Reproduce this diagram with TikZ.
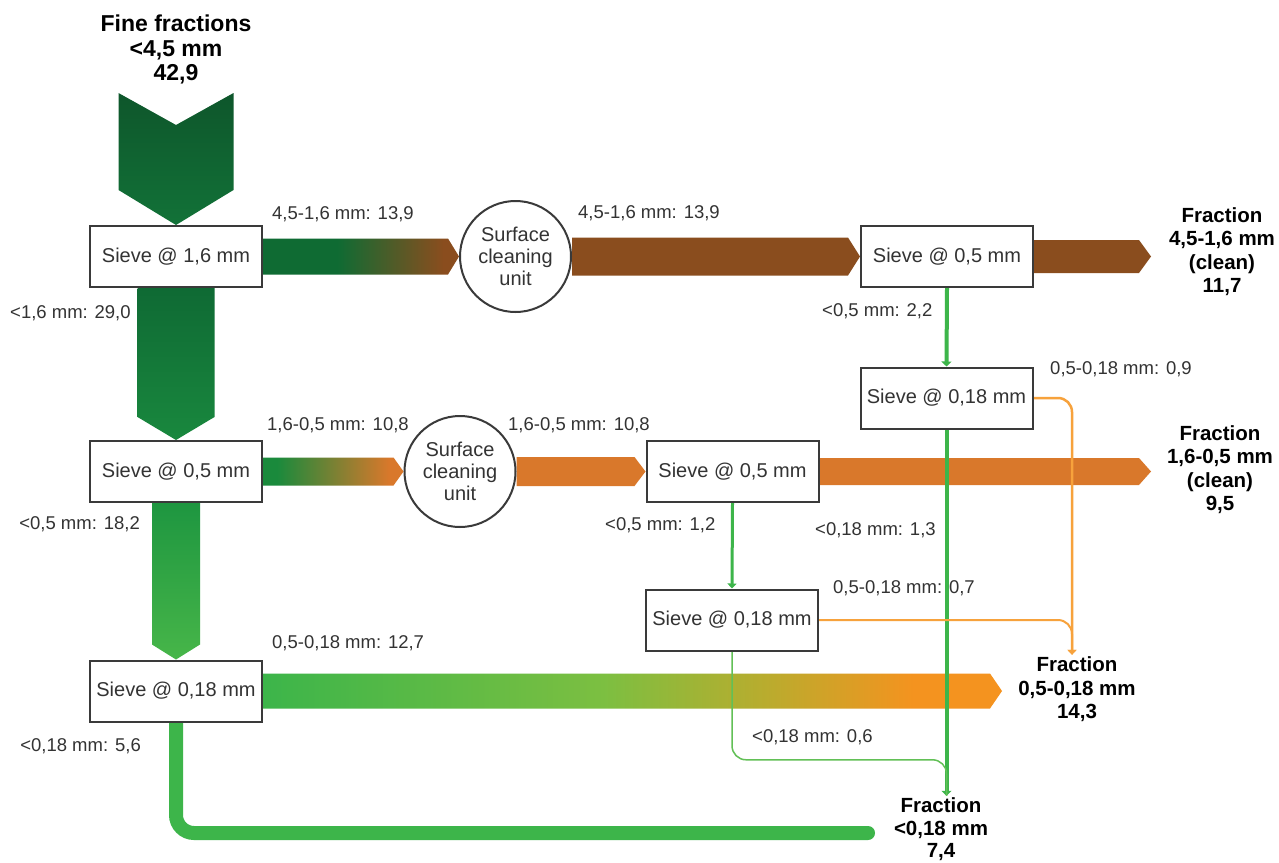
\documentclass[tikz,border=0pt]{standalone}
\usepackage{fontspec}
\setmainfont{Liberation Sans}
\usetikzlibrary{arrows.meta,calc}
\pgfdeclarelayer{background}
\pgfsetlayers{background,main}

\definecolor{gA}{HTML}{0F6B33}
\definecolor{brA}{HTML}{8A4D1E}
\definecolor{gB}{HTML}{1A8A3C}
\definecolor{orA}{HTML}{D9782B}
\definecolor{gC}{HTML}{3CB54A}
\definecolor{gC2}{HTML}{7CBF41}
\definecolor{yC}{HTML}{B9AC2E}
\definecolor{oC}{HTML}{F4931F}
\definecolor{oC2}{HTML}{F7941D}
\definecolor{lineG}{HTML}{3DB54A}
\definecolor{lineG2}{HTML}{62C056}
\definecolor{lineO}{HTML}{F7A23C}
\definecolor{boxline}{HTML}{3A3A3A}
\definecolor{txt}{HTML}{333333}
\definecolor{chevT}{HTML}{0E562B}
\definecolor{chevB}{HTML}{127238}
\definecolor{v1T}{HTML}{0F6A34}
\definecolor{v1B}{HTML}{19883E}
\definecolor{v2T}{HTML}{1E9640}
\definecolor{v2B}{HTML}{47B649}

\pgfdeclarehorizontalshading{shA}{100bp}{color(0bp)=(gA); color(44bp)=(gA); color(71bp)=(brA); color(100bp)=(brA)}
\pgfdeclarehorizontalshading{shB}{100bp}{color(0bp)=(gB); color(30bp)=(gB); color(70bp)=(orA); color(100bp)=(orA)}
\pgfdeclarehorizontalshading{shC}{100bp}{color(0bp)=(gC); color(25bp)=(gC); color(48bp)=(gC2); color(59bp)=(yC); color(69bp)=(oC); color(100bp)=(oC2)}

% fat horizontal arrow: #1 options, #2 start, #3 tip point, #4 half width, #5 tip length
\newcommand\hfat[5]{\path[#1] let \p1=#2, \p2=#3 in (\x1,\y1+#4) -- (\x2-#5,\y1+#4) -- (\x2,\y1) -- (\x2-#5,\y1-#4) -- (\x1,\y1-#4) -- cycle;}
% fat vertical arrow
\newcommand\vfat[5]{\path[#1] let \p1=#2, \p2=#3 in (\x1-#4,\y1) -- (\x1+#4,\y1) -- (\x1+#4,\y2+#5) -- (\x1,\y2) -- (\x1-#4,\y2+#5) -- cycle;}

\begin{document}
\begin{tikzpicture}[x=1pt,y=-1pt,
  sieve/.style={draw=boxline,line width=2pt,fill=white,minimum width=172pt,minimum height=61pt,inner sep=0pt,text=txt,font=\fontsize{20}{23}\selectfont},
  unit/.style={circle,draw=boxline,line width=2pt,fill=white,minimum size=111pt,inner sep=0pt,align=center,text=txt,font=\fontsize{20}{22}\selectfont},
  lbl/.style={inner sep=0pt,text=txt,font=\fontsize{18.5}{21}\selectfont},
  frac/.style={inner sep=2pt,align=center,text=black,font=\bfseries\fontsize{20.5}{23.5}\selectfont},
  thick green/.style={draw=lineG,line width=4pt,-{Triangle[length=5pt,width=10pt]}},
  mid green/.style={draw=lineG,line width=3pt,-{Triangle[length=5pt,width=9pt]}},
  thin green/.style={draw=lineG2,line width=1.5pt,rounded corners=14pt},
  orange line/.style={draw=lineO,line width=2.5pt,rounded corners=14pt,-{Triangle[length=5pt,width=9pt]}},
  big green/.style={draw=lineG,line width=14pt,rounded corners=18pt,line cap=round}
]
\useasboundingbox (0,0) rectangle (1279,862);

% nodes
\node[frac,font=\bfseries\fontsize{23}{24.5}\selectfont] (title) at (176,49.5) {Fine fractions\\<4,5 mm\\42,9};
\coordinate (in) at (176,93);
\node[sieve] (s1) at (176,256.5) {Sieve @ 1,6 mm};
\node[unit] (c1) at (515.5,256.5) {Surface\\cleaning\\unit};
\node[sieve] (s2) at (947,256.5) {Sieve @ 0,5 mm};
\node[sieve] (s5) at (946.5,398) {Sieve @ 0,18 mm};
\node[sieve] (s3) at (176,471.5) {Sieve @ 0,5 mm};
\node[unit] (c2) at (460,471.5) {Surface\\cleaning\\unit};
\node[sieve] (s4) at (732.5,471.5) {Sieve @ 0,5 mm};
\node[sieve] (s6) at (732,620) {Sieve @ 0,18 mm};
\node[sieve] (s7) at (176,691) {Sieve @ 0,18 mm};

\node[frac] (f1) at (1222,251.5) {Fraction\\4,5-1,6 mm\\(clean)\\11,7};
\node[frac] (f2) at (1220,469.5) {Fraction\\1,6-0,5 mm\\(clean)\\9,5};
\node[frac] (f3) at (1077,689.5) {Fraction\\0,5-0,18 mm\\14,3};
\node[frac,font=\bfseries\fontsize{20.5}{22.5}\selectfont] (f4) at (941,829.5) {Fraction\\<0,18 mm\\7,4};

\coordinate (t1) at (1151,255.5);
\coordinate (t2) at (1151,470.5);
\coordinate (t3) at (1002,691);
\coordinate (bl) at (868,833);

% labels
\node[lbl,anchor=west] at (272,214) {4,5-1,6 mm: 13,9};
\node[lbl,anchor=west] at (578,213) {4,5-1,6 mm: 13,9};
\node[lbl,anchor=west] at (10,313) {<1,6 mm: 29,0};
\node[lbl,anchor=west] at (822,311) {<0,5 mm: 2,2};
\node[lbl,anchor=west] at (1050,369) {0,5-0,18 mm: 0,9};
\node[lbl,anchor=west] at (267,425) {1,6-0,5 mm: 10,8};
\node[lbl,anchor=west] at (508,425) {1,6-0,5 mm: 10,8};
\node[lbl,anchor=east] at (140,524) {<0,5 mm: 18,2};
\node[lbl,anchor=west] at (605,525) {<0,5 mm: 1,2};
\node[lbl,anchor=west] at (815,530) {<0,18 mm: 1,3};
\node[lbl,anchor=west] at (833,588) {0,5-0,18 mm: 0,7};
\node[lbl,anchor=west] at (272,643) {0,5-0,18 mm: 12,7};
\node[lbl,anchor=east] at (141,746) {<0,18 mm: 5,6};
\node[lbl,anchor=west] at (752,737) {<0,18 mm: 0,6};

\begin{pgfonlayer}{background}
\fill[white] (0,0) rectangle (1279,862);
% input chevron
\shade[top color=chevT,bottom color=chevB] let \p1=(in), \p2=(s1.north) in
  (\x1-57.5pt,\y1) -- (\x1,\y1-32pt) -- (\x1+57.5pt,\y1) -- (\x1+57.5pt,\y2+35pt) -- (\x1,\y2) -- (\x1-57.5pt,\y2+35pt) -- cycle;
% vertical flows
\vfat{shade,top color=v1T,bottom color=v1B}{(s1.south)}{(s3.north)}{38.5pt}{23pt}
\vfat{shade,top color=v2T,bottom color=v2B}{(s3.south)}{(s7.north)}{24pt}{15pt}
% row 1
\hfat{shade,shading=shA}{(s1.east)}{(c1.west)}{18pt}{11pt}
\hfat{fill=brA}{(c1.east)}{(s2.west)}{19pt}{12pt}
\hfat{fill=brA}{(s2.east)}{(t1)}{16.5pt}{12pt}
% row 2
\hfat{shade,shading=shB}{(s3.east)}{(c2.west)}{14pt}{10pt}
\hfat{fill=orA}{(c2.east)}{(s4.west)}{14.5pt}{11pt}
\hfat{fill=orA}{(s4.east)}{(t2)}{13.5pt}{12pt}
% row 3
\hfat{shade,shading=shC}{(s7.east)}{(t3)}{17.5pt}{12pt}
% fine fraction bottom
\draw[big green] (s7.south) |- (bl);
% thin lines
\draw[thick green] (s2.south) -- (s5.north);
\draw[thick green] (s5.south) -- (s5.south |- f4.north);
\draw[mid green] (s4.south) -- (s6.north);
\draw[thin green] (s6.south) |- ($(s5.south |- f4.north)+(0,-36)$) -- (s5.south |- f4.north);
\draw[orange line] (s5.east) -| ([xshift=-5pt]f3.north);
\draw[orange line,line width=2pt] (s6.east) -| ([xshift=-5pt]f3.north);
\end{pgfonlayer}
\end{tikzpicture}
\end{document}
